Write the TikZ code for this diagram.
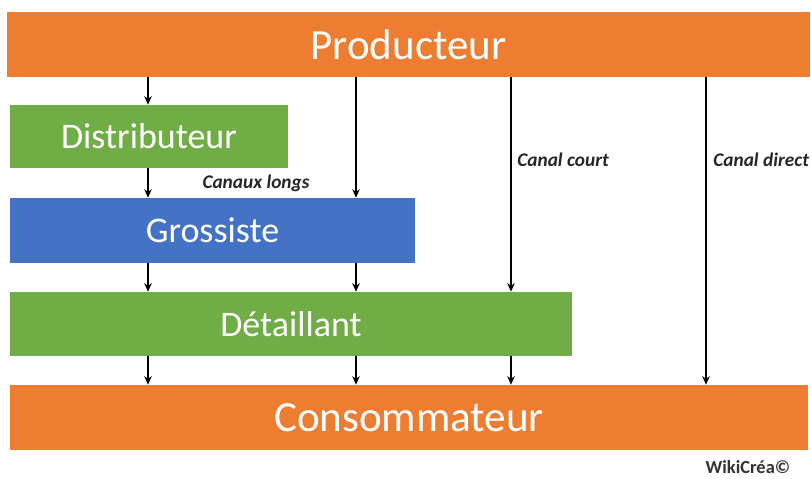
\documentclass[tikz,border=0pt]{standalone}
\usepackage{fontspec}
\setmainfont{Carlito}
\usetikzlibrary{arrows.meta}
\definecolor{officeorange}{RGB}{237, 125, 49}
\definecolor{officegreen}{RGB}{112, 173, 71}
\definecolor{officeblue}{RGB}{68, 114, 196}

\tikzset{
  level/.style={inner sep=0pt, text=white, font=\fontsize{20.5}{24}\selectfont},
  bigbox/.style={level, fill=officeorange, minimum height=1.3cm, font=\fontsize{24.5}{28}\selectfont},
  flow/.style={-{Stealth[length=1.7mm, width=1.5mm]}, line width=0.7pt},
  chanlabel/.style={font=\fontsize{11}{13}\selectfont\bfseries\itshape, text=black!85, inner sep=0pt}
}

\begin{document}
\begin{tikzpicture}[x=0.02cm, y=-0.02cm]
  \useasboundingbox (0,0) rectangle (811,478);

  % levels of the chain
  \node[bigbox, minimum width=16.06cm] (prod) at (408.5,44.5) {Producteur};
  \node[level, fill=officegreen, minimum width=5.56cm, minimum height=1.26cm] (dist) at (149,136.5) {Distributeur};
  \node[level, fill=officeblue, minimum width=8.1cm, minimum height=1.3cm] (gros) at (212.5,230.5) {Grossiste};
  \node[level, fill=officegreen, minimum width=11.24cm, minimum height=1.28cm] (det) at (291,324) {Détaillant};
  \node[bigbox, minimum width=15.96cm] (cons) at (409,417.5) {Consommateur};

  % columns of the channels
  \coordinate (c1) at (148,0);
  \coordinate (c2) at (356,0);
  \coordinate (c3) at (511,0);
  \coordinate (c4) at (706,0);

  \draw[flow] (prod.south -| c1) -- (dist.north -| c1);
  \draw[flow] (dist.south -| c1) -- (gros.north -| c1);
  \draw[flow] (prod.south -| c2) -- (gros.north -| c2);
  \foreach \c in {c1,c2} {
    \draw[flow] (gros.south -| \c) -- (det.north -| \c);
  }
  \draw[flow] (prod.south -| c3) -- (det.north -| c3);
  \foreach \c in {c1,c2,c3} {
    \draw[flow] (det.south -| \c) -- (cons.north -| \c);
  }
  \draw[flow] (prod.south -| c4) -- (cons.north -| c4);

  \node[chanlabel] (longs) at (256,183) {Canaux longs};
  \node[chanlabel, anchor=west] (court) at (517,160) {Canal court};
  \node[chanlabel, anchor=west] (direct) at (713,160) {Canal direct};

  \node[font=\fontsize{10.5}{13}\selectfont\bfseries, text=black!80, inner sep=0pt] (mark) at (748,467) {WikiCréa©};
\end{tikzpicture}
\end{document}
